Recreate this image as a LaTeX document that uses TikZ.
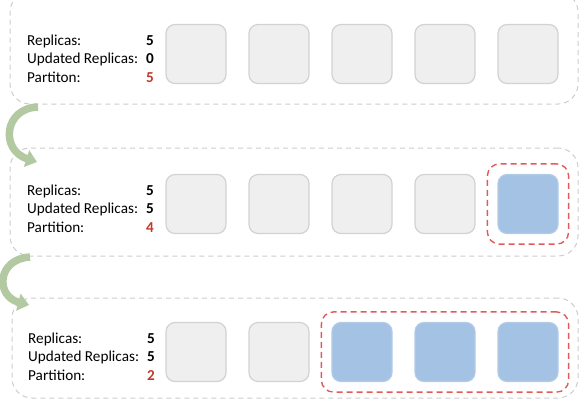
\documentclass[tikz,border=0pt]{standalone}
\usepackage{fontspec}
\setmainfont{Carlito}
\usetikzlibrary{fit, arrows.meta}

\definecolor{panelgray}{HTML}{CCCCCC}
\definecolor{podgray}{HTML}{EFEFEF}
\definecolor{podborder}{HTML}{D2D2D2}
\definecolor{podblue}{HTML}{A4C2E3}
\definecolor{reddash}{HTML}{E25A5C}
\definecolor{numred}{HTML}{C0392B}
\definecolor{flowgreen}{HTML}{B2C9A2}

\begin{document}
\begin{tikzpicture}[x=1pt, y=-1pt, font=\fontsize{15.2}{18.5}\selectfont,
  panel/.style={draw=panelgray, dash pattern=on 5pt off 4pt, line width=1pt, rounded corners=20pt, inner sep=0pt},
  pod/.style={draw=podborder, fill=podgray, line width=1.2pt, rounded corners=9pt, minimum width=60pt, minimum height=59pt, inner sep=0pt},
  newpod/.style={pod, draw=podblue!85!white, fill=podblue},
  updated/.style={draw=reddash, dash pattern=on 6pt off 4pt, line width=1.4pt, rounded corners=12pt, inner sep=10pt},
  flow/.style={draw=flowgreen, line width=7.5pt, -{Triangle[length=11pt, width=17pt]}}];

\useasboundingbox (0,0) rectangle (581,400);

% panels
\node[panel, minimum width=568pt, minimum height=112pt] (p1) at (294,48) {};
\node[panel, minimum width=568pt, minimum height=108pt] (p2) at (294,202) {};
\node[panel, minimum width=566pt, minimum height=100pt] (p3) at (295,348) {};

% pods
\foreach \i/\x in {1/196,2/279,3/362,4/445,5/528} \node[pod] (a\i) at (\x,54) {};
\foreach \i/\x in {1/196,2/279,3/362,4/445} \node[pod] (b\i) at (\x,204) {};
\node[newpod] (b5) at (528,204) {};
\foreach \i/\x in {1/196,2/279} \node[pod] (c\i) at (\x,352) {};
\foreach \i/\x in {3/362,4/445,5/528} \node[newpod] (c\i) at (\x,352) {};

\node[updated, fit=(b5)] (u2) {};
\node[updated, fit=(c3) (c5)] (u3) {};

% status
\node[anchor=base west, inner sep=0pt] (s1) at (27,45) {\begin{tabular}[t]{@{}l@{\hspace{8pt}}l@{}}
Replicas: & \textbf{5}\\ Updated Replicas: & \textbf{0}\\ Partiton: & \textcolor{numred}{\textbf{5}}\end{tabular}};
\node[anchor=base west, inner sep=0pt] (s2) at (27,195) {\begin{tabular}[t]{@{}l@{\hspace{8pt}}l@{}}
Replicas: & \textbf{5}\\ Updated Replicas: & \textbf{5}\\ Partition: & \textcolor{numred}{\textbf{4}}\end{tabular}};
\node[anchor=base west, inner sep=0pt] (s3) at (28,343) {\begin{tabular}[t]{@{}l@{\hspace{8pt}}l@{}}
Replicas: & \textbf{5}\\ Updated Replicas: & \textbf{5}\\ Partition: & \textcolor{numred}{\textbf{2}}\end{tabular}};

% steps
\coordinate (f1s) at (38,107);
\coordinate (f1e) at (37,162);
\coordinate (f2s) at (30,257);
\coordinate (f2e) at (29,305);
\draw[flow] (f1s) .. controls (4,108) and (0,150) .. (f1e);
\draw[flow] (f2s) .. controls (-3,259) and (-5,296) .. (f2e);
\end{tikzpicture}
\end{document}
